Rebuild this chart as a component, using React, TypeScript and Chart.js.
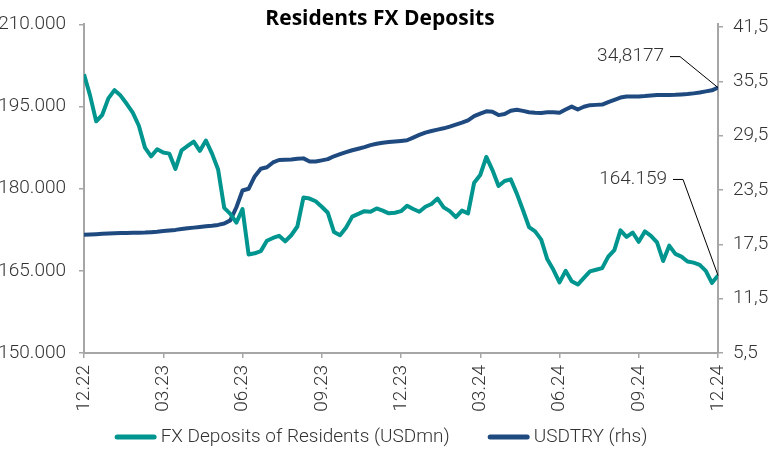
import { useEffect, useRef } from "react";
import { Chart, registerables } from "chart.js";

Chart.register(...registerables);

// ---- Data (weekly, 12.2022 – 12.2024) ----
const quarterLabels = ["12.22", "03.23", "06.23", "09.23", "12.23", "03.24", "06.24", "09.24", "12.24"];
const quarterWeeks = [0, 13, 26, 39, 52, 65, 78, 91, 104];
const leftTicks = [150000, 165000, 180000, 195000, 210000];
const rightTicks = [5.5, 11.5, 17.5, 23.5, 29.5, 35.5, 41.5];

const fxDeposits = [
  200900, 197000, 192300, 193500, 196500, 198000, 197000, 195500, 193900, 191500,
  187500, 185900, 187200, 186600, 186400, 183600, 187000, 187800, 188600, 186900,
  188800, 186400, 183500, 176500, 175400, 173800, 176300, 168000, 168200, 168600,
  170500, 171000, 171400, 170400, 171500, 173100, 178400, 178200, 177700, 176700,
  175600, 172100, 171500, 172900, 174900, 175400, 175900, 175800, 176400, 176000,
  175500, 175600, 175900, 176900, 176300, 175800, 176700, 177200, 178200, 176600,
  175900, 174800, 176000, 175500, 181100, 182500, 185800, 183400, 180500, 181400,
  181700, 179100, 176100, 173000, 172200, 170700, 167100, 165200, 162900, 165000,
  163100, 162500, 163700, 164900, 165200, 165500, 167600, 168800, 172400, 171200,
  172000, 170300, 172200, 171400, 170200, 166800, 169600, 168100, 167600, 166700,
  166500, 166100, 165000, 162800, 164159,
];

const usdTry = [
  18.56, 18.6, 18.63, 18.66, 18.7, 18.73, 18.75, 18.76, 18.78, 18.79,
  18.8, 18.85, 18.9, 18.97, 19.03, 19.1, 19.19, 19.28, 19.35, 19.42,
  19.49, 19.56, 19.65, 19.8, 20.15, 21.6, 23.45, 23.64, 25.0, 25.85,
  26.02, 26.55, 26.82, 26.86, 26.88, 26.95, 27.0, 26.65, 26.65, 26.78,
  26.92, 27.23, 27.46, 27.68, 27.9, 28.07, 28.24, 28.46, 28.62, 28.73,
  28.8, 28.86, 28.93, 29.0, 29.3, 29.59, 29.85, 30.03, 30.18, 30.32,
  30.51, 30.72, 30.94, 31.2, 31.66, 31.95, 32.2, 32.14, 31.78, 31.9,
  32.26, 32.37, 32.25, 32.1, 32.05, 32.02, 32.09, 32.1, 32.05, 32.4,
  32.72, 32.4, 32.7, 32.88, 32.91, 32.94, 33.22, 33.47, 33.72, 33.83,
  33.83, 33.83, 33.88, 33.95, 34.0, 34.0, 34.0, 34.02, 34.06, 34.1,
  34.18, 34.27, 34.4, 34.52, 34.8177,
];

const TEAL = "#00968F";
const NAVY = "#1F4A80";
const AXIS = "#A6A6A6";
const TEXT = "#333333";
const FONT = "Roboto";

const fmtThousands = (v: number) =>
  Math.round(v).toString().replace(/\B(?=(\d{3})+(?!\d))/g, ".");
const fmtComma = (v: number, d: number) => v.toFixed(d).replace(".", ",");

const titlePlugin = {
  id: "centerTitle",
  afterDraw(chart: any) {
    const ctx = chart.ctx;
    ctx.save();
    ctx.font = `bold 21px "Open Sans"`;
    ctx.fillStyle = "#000";
    ctx.textAlign = "center";
    ctx.textBaseline = "middle";
    ctx.fillText("Residents FX Deposits", 380, 19);
    ctx.restore();
  },
};

// Legend drawn as line samples + labels below the axis labels
const legendPlugin = {
  id: "lineLegend",
  afterDraw(chart: any) {
    const ctx = chart.ctx;
    const ds = chart.data.datasets;
    ctx.save();
    ctx.font = `300 19px ${FONT}`;
    const sample = 42;
    const gapText = 4;
    const gapItem = 38;
    const widths = ds.map((d: any) => ctx.measureText(d.label).width);
    const total = ds.reduce((s: number, _d: any, i: number) => s + sample + gapText + widths[i], 0) + gapItem * (ds.length - 1);
    let x = 381 - total / 2;
    const y = 437;
    ds.forEach((d: any, i: number) => {
      ctx.strokeStyle = d.borderColor;
      ctx.lineWidth = 5;
      ctx.lineCap = "round";
      ctx.beginPath();
      ctx.moveTo(x + 2.5, y);
      ctx.lineTo(x + sample - 2.5, y);
      ctx.stroke();
      ctx.fillStyle = TEXT;
      ctx.textAlign = "left";
      ctx.textBaseline = "middle";
      ctx.fillText(d.label, x + sample + gapText, y);
      x += sample + gapText + widths[i] + gapItem;
    });
    ctx.restore();
  },
};

const lastValuePlugin = {
  id: "lastValueLabels",
  afterDatasetsDraw(chart: any) {
    const ctx = chart.ctx;
    const items = [
      { ds: 1, text: fmtComma(usdTry[usdTry.length - 1], 4), dx: -38, dy: -31 },
      { ds: 0, text: fmtThousands(fxDeposits[fxDeposits.length - 1]), dx: -35, dy: -96 },
    ];
    items.forEach((a) => {
      const meta = chart.getDatasetMeta(a.ds);
      const pt = meta.data[meta.data.length - 1];
      const ex = pt.x + a.dx;
      const ey = pt.y + a.dy;
      ctx.save();
      ctx.strokeStyle = "#000";
      ctx.lineWidth = 1;
      ctx.beginPath();
      ctx.moveTo(ex - 10, ey);
      ctx.lineTo(ex, ey);
      ctx.lineTo(pt.x, pt.y);
      ctx.stroke();
      ctx.font = `300 19px ${FONT}`;
      ctx.fillStyle = TEXT;
      ctx.textAlign = "right";
      ctx.textBaseline = "middle";
      ctx.fillText(a.text, ex - 16, ey);
      ctx.restore();
    });
  },
};

export default function App() {
  const canvasRef = useRef<HTMLCanvasElement | null>(null);

  useEffect(() => {
    if (!canvasRef.current) return;
    const tickFont = { family: FONT, size: 19, weight: 300 as any };
    const axisGrid = {
      display: true,
      drawOnChartArea: false,
      drawTicks: true,
      tickLength: 5,
      color: AXIS,
      lineWidth: 1.5,
    };
    const chart = new Chart(canvasRef.current, {
      type: "line",
      data: {
        datasets: [
          {
            label: "FX Deposits of Residents (USDmn)",
            data: fxDeposits.map((v, i) => ({ x: i, y: v })),
            borderColor: TEAL,
            backgroundColor: TEAL,
            borderWidth: 4,
            pointRadius: 0,
            tension: 0,
            borderJoinStyle: "round",
            yAxisID: "y",
          },
          {
            label: "USDTRY (rhs)",
            data: usdTry.map((v, i) => ({ x: i, y: v })),
            borderColor: NAVY,
            backgroundColor: NAVY,
            borderWidth: 4,
            pointRadius: 0,
            tension: 0,
            borderJoinStyle: "round",
            yAxisID: "y1",
          },
        ],
      },
      options: {
        responsive: false,
        animation: false,
        devicePixelRatio: 1,
        layout: { padding: { top: 20, left: 0, right: 0, bottom: 37 } },
        plugins: {
          title: { display: false },
          tooltip: { enabled: false },
          legend: { display: false },
        },
        scales: {
          x: {
            type: "linear",
            min: 0,
            max: 104,
            afterBuildTicks: (s: any) => {
              s.ticks = quarterWeeks.map((v) => ({ value: v }));
            },
            afterFit: (s: any) => {
              s.height = 60;
            },
            ticks: {
              autoSkip: false,
              minRotation: 90,
              maxRotation: 90,
              padding: 7,
              color: TEXT,
              font: tickFont,
              callback: (v: any) => {
                const k = quarterWeeks.indexOf(Number(v));
                return k >= 0 ? quarterLabels[k] : "";
              },
            },
            grid: axisGrid,
            border: { display: true, color: AXIS, width: 2 },
          },
          y: {
            position: "left",
            min: 150000,
            max: 210000,
            afterBuildTicks: (s: any) => {
              s.ticks = leftTicks.map((v) => ({ value: v }));
            },
            afterFit: (s: any) => {
              s.width = 84;
            },
            ticks: {
              padding: 13,
              color: TEXT,
              font: tickFont,
              callback: (v: any) => fmtThousands(Number(v)),
            },
            grid: axisGrid,
            border: { display: true, color: AXIS, width: 2 },
          },
          y1: {
            position: "right",
            min: 5.5,
            max: 41.8,
            afterBuildTicks: (s: any) => {
              s.ticks = rightTicks.map((v) => ({ value: v }));
            },
            afterFit: (s: any) => {
              s.width = 63;
            },
            ticks: {
              padding: 10,
              color: TEXT,
              font: tickFont,
              callback: (v: any) => fmtComma(Number(v), 1),
            },
            grid: axisGrid,
            border: { display: true, color: AXIS, width: 2 },
          },
        },
      },
      plugins: [titlePlugin, legendPlugin, lastValuePlugin],
    } as any);
    return () => chart.destroy();
  }, []);

  return (
    <div style={{ position: "absolute", left: 0, top: 0, width: 781, height: 450, background: "#fff" }}>
      <canvas ref={canvasRef} width={781} height={450} />
    </div>
  );
}
